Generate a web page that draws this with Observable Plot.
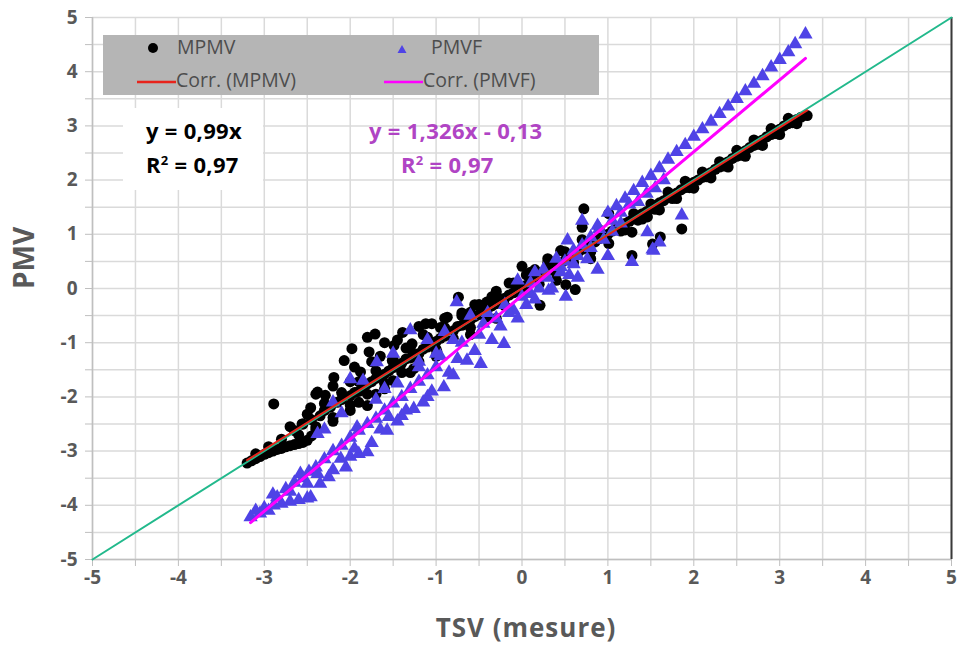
<!DOCTYPE html>
<html>
<head>
<meta charset="utf-8">
<script src="https://cdn.jsdelivr.net/npm/d3@7"></script>
<script src="https://cdn.jsdelivr.net/npm/@observablehq/plot@0.6"></script>
<style>
  html, body { margin: 0; padding: 0; background: #fff; }
  #wrap { position: relative; width: 960px; height: 649px; overflow: hidden; font-family: "Open Sans", sans-serif; }
  #wrap svg { position: absolute; left: 0; top: 0; }
  .ov { position: absolute; white-space: nowrap; }
</style>
</head>
<body>
<div id="wrap"></div>
<script>
// ---- Data ----
const mpmvTSV = [
  -3.20,-3.15,-3.10,-3.05,-3.00,-2.95,-2.90,-2.85,-2.80,-2.75,-2.70,-2.65,-2.60,-2.55,-2.50,-2.45,
  -3.10,-2.95,-2.80,-2.65,-2.55,-2.45,-2.35,-2.30,-2.23,-2.15,-2.10,-2.00,-1.95,-1.90,-1.85,-1.80,
  -1.75,-1.70,-1.65,-1.60,-1.55,-1.50,-1.45,-1.40,-1.35,-1.30,-1.25,-1.20,-1.15,-1.10,-1.05,-1.00,
  -0.95,-0.90,-0.85,-0.80,-0.75,-0.70,-0.65,-0.60,-0.55,-0.50,-0.45,-0.40,-0.35,-0.30,-0.25,-0.20,
  -0.15,-0.10,-0.05,0.00,0.05,0.10,0.15,0.20,0.25,0.30,0.35,0.40,0.45,0.50,0.55,0.60,0.65,0.70,
  0.75,0.80,0.85,0.90,0.95,1.00,1.05,1.10,1.15,1.20,1.25,1.30,1.35,1.40,1.45,1.50,1.55,1.60,1.65,
  1.70,1.75,1.80,1.85,1.90,1.95,2.00,2.05,2.10,2.15,2.20,2.25,2.30,2.35,2.40,2.45,2.50,2.55,2.60,
  2.65,2.70,2.75,2.80,2.85,2.90,2.95,3.00,3.05,3.10,3.15,3.20,3.25,3.32,
  1.20,1.40,1.60,1.80,2.00,2.20,2.40,2.60,2.80,3.00,3.20,
  1.30,1.50,1.70,1.90,2.10,2.30,2.50,2.70,2.90,3.10,
  1.15,1.35,1.55,1.75,1.95,2.15,2.35,2.55,2.75,2.95,3.15,
  -2.89,-2.38,-2.29,-2.19,-2.07,-1.98,-1.88,-1.80,-1.78,-1.71,-1.51,-1.49,-1.39,-1.28,-1.26,-1.12,
  -0.99,-0.87,-0.74,-0.60,-0.41,-2.56,-2.46,-2.00,-1.65,-1.35,-1.15,-0.95,-0.70,-0.50,-0.30,-0.15,
  0.00,0.05,0.15,0.30,0.45,
  -2.20,-1.95,-1.60,-1.45,-1.20,-1.05,-0.90,-0.55,-0.35,-1.75,-2.40,
  -2.40,-2.20,-2.00,-1.80,-1.60,-1.40,-1.20,-1.00,-0.80,-0.60,-0.40,-0.20,0.00,0.20,0.40,0.60,0.80,
  -2.70,-2.50,-2.30,-2.10,-1.90,-1.70,-1.50,-1.30,-1.10,-0.90,-0.70,-0.50,-0.30,-0.10,0.10,0.30,
  0.50,0.70,0.90,
  -2.60,-2.40,-2.20,-2.00,-1.90,-1.70,-1.50,-1.30,
  -1.80,-1.60,-1.00,-0.60,-0.30,0.21,0.51,0.62,0.40,0.80,
  0.72,0.70,1.01,1.28,1.01,1.28,1.52,1.61,1.86,1.46
];
const mpmvPMV = [
  -3.22,-3.18,-3.14,-3.10,-3.06,-3.03,-3.00,-2.97,-2.95,-2.92,-2.90,-2.88,-2.86,-2.84,-2.80,-2.72,
  -3.05,-2.92,-2.78,-2.62,-2.50,-2.42,-2.35,-2.25,-2.19,-2.10,-2.05,-1.98,-1.92,-1.90,-1.80,-1.76,
  -1.72,-1.66,-1.60,-1.58,-1.52,-1.46,-1.42,-1.38,-1.30,-1.28,-1.22,-1.20,-1.12,-1.08,-1.02,-0.98,
  -0.92,-0.88,-0.84,-0.78,-0.70,-0.68,-0.62,-0.58,-0.52,-0.48,-0.42,-0.38,-0.32,-0.28,-0.22,-0.18,
  -0.12,-0.08,-0.02,0.02,0.06,0.12,0.16,0.22,0.26,0.32,0.36,0.42,0.46,0.52,0.56,0.62,0.66,0.72,
  0.76,0.82,0.86,0.92,0.96,1.00,1.06,1.10,1.14,1.20,1.24,1.28,1.33,1.38,1.42,1.48,1.52,1.58,1.62,
  1.68,1.72,1.76,1.82,1.86,1.90,1.96,2.00,2.05,2.10,2.14,2.20,2.24,2.30,2.34,2.40,2.44,2.50,2.54,
  2.60,2.64,2.70,2.74,2.80,2.84,2.90,2.94,3.00,3.04,3.08,3.12,3.16,3.19,
  1.08,1.28,1.45,1.66,1.85,2.04,2.24,2.44,2.64,2.84,3.04,
  1.38,1.56,1.78,1.98,2.15,2.34,2.55,2.74,2.95,3.14,
  1.06,1.26,1.46,1.66,1.86,2.06,2.26,2.46,2.66,2.86,3.06,
  -2.13,-1.91,-1.97,-1.64,-1.33,-1.11,-1.54,-0.90,-1.17,-0.84,-1.33,-1.05,-0.81,-1.02,-1.48,-0.65,
  -1.17,-0.53,-0.16,-0.44,-0.25,-2.50,-2.20,-1.72,-1.25,-1.10,-0.85,-0.72,-0.45,-0.30,-0.05,0.10,
  0.41,0.25,0.35,0.55,0.70,
  -1.80,-1.45,-1.00,-0.95,-0.70,-0.65,-0.55,-0.30,-0.15,-1.35,-1.95,
  -2.55,-2.38,-2.15,-1.95,-1.75,-1.55,-1.35,-1.12,-0.92,-0.72,-0.52,-0.32,-0.10,0.08,0.28,0.48,0.68,
  -2.55,-2.32,-2.12,-1.92,-1.72,-1.52,-1.30,-1.10,-0.90,-0.72,-0.50,-0.30,-0.10,0.10,0.30,0.48,
  0.68,0.90,1.08,
  -2.70,-2.60,-2.45,-2.25,-2.10,-1.95,-1.70,-1.55,
  -2.16,-1.85,-1.25,-0.85,-0.55,-0.31,0.07,-0.02,0.15,0.55,
  1.47,1.13,1.38,1.04,0.83,0.61,0.82,0.95,1.10,1.32
];
const pmvfTSV = [
  -3.16,-3.05,-2.95,-2.89,-2.80,-2.70,-2.60,-2.50,-2.46,-3.00,-2.85,-2.75,-2.65,-2.58,-2.48,-2.38,
  -2.25,-2.11,-2.00,-1.90,-1.80,-2.55,-2.40,-2.30,-2.20,-2.10,-2.00,-1.90,-1.80,-1.70,-1.60,-1.50,
  -1.40,-1.30,-1.20,-1.10,-1.00,-2.38,-1.92,-1.57,-1.55,-1.26,-1.40,-1.10,-0.91,-0.80,-0.64,-0.48,
  -0.21,-1.70,-1.45,-1.20,-0.95,-0.70,-0.50,-0.30,-0.10,0.10,0.30,0.50,0.70,0.90,
  -2.00,-1.69,-1.30,-0.76,-1.10,-0.90,-2.20,-1.85,-1.50,-0.60,-0.40,-0.20,0.00,0.20,0.31,0.51,
  0.76,0.88,0.53,0.70,0.88,0.40,0.60,-0.05,0.15,0.25,0.80,
  -3.10,-2.90,-2.70,-2.50,-2.35,-2.20,-2.05,-1.95,-1.75,-1.65,-1.45,-1.35,-1.15,-1.05,-0.85,-0.75,
  -0.55,-0.35,-0.25,-0.05,0.05,0.15,0.35,0.45,0.60,0.65,0.80,0.95,1.05,1.15,1.35,1.45,1.55,1.65,
  -2.30,-2.10,-1.60,-1.20,-1.00,-0.80,-0.45,-0.15,0.10,0.45,0.55,0.65,
  1.00,1.10,1.20,1.30,1.40,1.50,1.60,1.70,1.80,1.90,2.00,2.10,2.20,2.30,2.40,2.50,2.60,2.70,
  2.80,2.90,3.00,3.10,3.18,3.30,
  1.05,1.15,1.25,
  1.86,1.46,1.52,1.53,1.28,1.60,1.00
];
const pmvfPMV = [
  -4.22,-4.15,-4.10,-4.00,-3.97,-3.93,-3.90,-3.87,-3.85,-4.05,-3.85,-3.70,-3.58,-3.42,-3.38,-3.42,
  -3.48,-3.14,-3.10,-3.05,-3.02,-3.50,-3.30,-3.15,-3.00,-2.90,-2.75,-2.62,-2.50,-2.40,-2.25,-2.12,
  -2.00,-1.85,-1.72,-1.60,-1.45,-2.68,-2.56,-2.62,-2.37,-2.22,-2.35,-2.00,-1.82,-1.60,-1.33,-1.39,
  -1.02,-2.05,-1.75,-1.45,-1.25,-1.00,-0.85,-0.55,-0.40,-0.10,0.20,0.50,0.80,1.10,
  -1.67,-1.36,-0.77,-0.25,-0.95,-0.80,-2.10,-1.70,-1.20,-0.50,-0.45,-0.30,-0.15,0.00,-0.04,-0.15,
  0.54,0.35,0.89,1.25,1.16,0.55,0.70,0.15,0.30,0.35,0.95,
  -4.10,-3.80,-3.75,-3.60,-3.60,-3.35,-3.30,-2.95,-2.85,-2.60,-2.45,-2.25,-2.10,-1.90,-1.55,-1.30,
  -1.15,-0.95,-0.70,-0.55,-0.30,-0.20,0.00,0.30,0.45,0.60,0.75,0.90,1.05,1.20,1.60,1.75,1.85,2.00,
  -2.60,-2.30,-1.85,-1.35,-1.20,-0.95,-0.65,-0.45,0.10,0.40,0.25,0.20,
  1.40,1.52,1.66,1.80,1.95,2.08,2.22,2.38,2.52,2.65,2.80,2.94,3.08,3.22,3.36,3.50,3.64,3.78,
  3.92,4.08,4.22,4.36,4.51,4.69,
  1.25,1.40,1.55,
  1.35,1.04,0.72,0.70,0.49,0.85,0.60
];
// Trend-line coefficients printed on the chart
const mpmvSlope = 0.99, mpmvIntercept = 0;
const pmvfSlope = 1.326, pmvfIntercept = -0.13;
const xTicks = [-5,-4,-3,-2,-1,0,1,2,3,4,5];
const yTicks = [-5,-4,-3,-2,-1,0,1,2,3,4,5];
const halfTicks = [-5,-4.5,-4,-3.5,-3,-2.5,-2,-1.5,-1,-0.5,0,0.5,1,1.5,2,2.5,3,3.5,4,4.5,5];
const identity = [-5, 5];

// ---- Build tables ----
const mpmv = mpmvTSV.map((x, i) => ({x, y: mpmvPMV[i]}));
const pmvf = pmvfTSV.map((x, i) => ({x, y: pmvfPMV[i]}));
const mx = d3.extent(mpmvTSV), px = d3.extent(pmvfTSV);
const mpmvFit = mx.map(x => ({x, y: mpmvSlope * x + mpmvIntercept}));
const pmvfFit = px.map(x => ({x, y: pmvfSlope * x + pmvfIntercept}));
const idLine = identity.map(v => ({x: v, y: v}));

const gray = "#595959";
const chart = Plot.plot({
  width: 960, height: 649,
  marginLeft: 92, marginRight: 9, marginTop: 17, marginBottom: 90,
  style: {fontFamily: "'Open Sans', sans-serif", background: "transparent"},
  x: {domain: [-5, 5]},
  y: {domain: [-5, 5]},
  marks: [
    Plot.gridX(halfTicks, {stroke: "#dadada", strokeOpacity: 1, strokeWidth: 1.5}),
    Plot.gridY(halfTicks, {stroke: "#dadada", strokeOpacity: 1, strokeWidth: 1.5}),
    Plot.axisX(halfTicks, {tickSize: 7, stroke: "#bfbfbf", text: null, label: null}),
    Plot.axisY(halfTicks, {tickSize: 7, stroke: "#bfbfbf", text: null, label: null}),
    Plot.axisX(xTicks, {tickSize: 0, tickPadding: 11, fontSize: 19, fontWeight: "bold", fill: gray, tickFormat: d => String(d), label: null}),
    Plot.axisY(yTicks, {tickSize: 0, tickPadding: 15, fontSize: 19, fontWeight: "bold", fill: gray, tickFormat: d => String(d), label: null}),
    Plot.ruleY([-5], {stroke: "#bfbfbf", strokeWidth: 1.5}),
    Plot.ruleX([-5], {stroke: "#bfbfbf", strokeWidth: 1.5}),
    Plot.ruleX([5], {stroke: "#3a3a3a", strokeWidth: 2}),
    Plot.dot(mpmv, {x: "x", y: "y", r: 5.5, fill: "#000", stroke: "none"}),
    Plot.dot(pmvf, {x: "x", y: "y", r: 5.3, symbol: "triangle", fill: "#4f43e6", stroke: "none"}),
    Plot.line(idLine, {x: "x", y: "y", stroke: "#22b98c", strokeWidth: 2}),
    Plot.line(mpmvFit, {x: "x", y: "y", stroke: "#e8231b", strokeWidth: 2}),
    Plot.line(pmvfFit, {x: "x", y: "y", stroke: "#ff00ff", strokeWidth: 3})
  ]
});
const wrap = document.getElementById("wrap");
wrap.appendChild(chart);

function ov(html, style) {
  const d = document.createElement("div");
  d.className = "ov";
  d.innerHTML = html;
  Object.assign(d.style, style);
  wrap.appendChild(d);
  return d;
}
// Legend box
ov("", {left: "103px", top: "35px", width: "496px", height: "60px", background: "#b5b5b5"});
ov('<svg width="496" height="60" style="position:absolute;left:0;top:0">' +
   '<circle cx="50" cy="13" r="5" fill="#000"/>' +
   '<path d="M299,10 l4.5,8 l-9,0 z" fill="#4f43e6"/>' +
   '<line x1="34" x2="73" y1="47" y2="47" stroke="#e8231b" stroke-width="2.5"/>' +
   '<line x1="281" x2="320" y1="47" y2="47" stroke="#ff00ff" stroke-width="2.5"/>' +
   '</svg>', {left: "103px", top: "35px", width: "496px", height: "60px"});
const legStyle = {fontSize: "19.5px", color: "#4d4d4d", lineHeight: "22px", fontWeight: "500"};
ov("MPMV", Object.assign({left: "177px", top: "36px"}, legStyle));
ov("PMVF", Object.assign({left: "431px", top: "36px"}, legStyle));
ov("Corr. (MPMV)", Object.assign({left: "176px", top: "69px"}, legStyle));
ov("Corr. (PMVF)", Object.assign({left: "423px", top: "69px"}, legStyle));
// Equations
ov("", {left: "123px", top: "108px", width: "140px", height: "82px", background: "#fff"});
const eqStyle = {fontSize: "22px", fontWeight: "bold", lineHeight: "30px", letterSpacing: "0.3px"};
ov("y = 0,99x<br>R<sup style='font-size:13px;vertical-align:8px'>2</sup> = 0,97", Object.assign({left: "146px", top: "115px", color: "#000"}, eqStyle));
ov("y = 1,326x - 0,13", Object.assign({left: "369px", top: "115px", color: "#b044c4", letterSpacing: "0.8px"}, eqStyle));
ov("R<sup style='font-size:13px;vertical-align:8px'>2</sup> = 0,97", Object.assign({left: "401px", top: "145px", color: "#b044c4"}, eqStyle));
// Axis titles
ov("TSV (mesure)", {left: "526px", top: "609px", transform: "translateX(-50%)", fontSize: "26px", fontWeight: "bold", color: gray, letterSpacing: "1px"});
ov("PMV", {left: "23px", top: "258px", transform: "translate(-50%,-50%) rotate(-90deg)", fontSize: "28px", fontWeight: "bold", color: gray});
</script>
</body>
</html>
